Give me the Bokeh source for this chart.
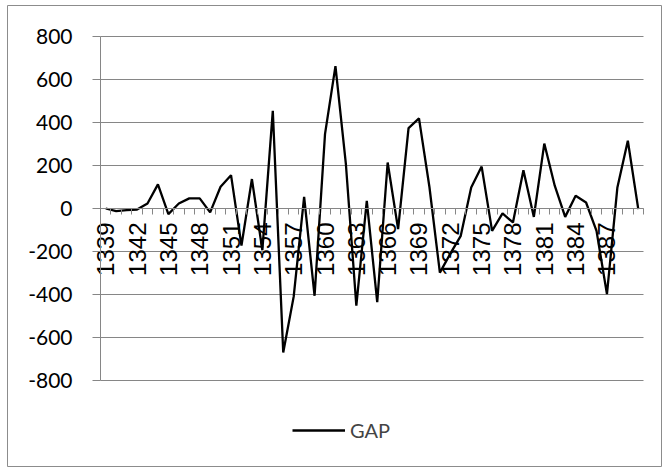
import math
from bokeh.plotting import figure
from bokeh.models import Range1d, FixedTicker, Legend, LegendItem, ColumnDataSource
from bokeh.embed import file_html
from bokeh.resources import INLINE

years = list(range(1339, 1391))
gap = [0, -12, -8, -5, 23, 112, -26, 23, 47, 47,
       -18, 101, 155, -173, 137, -194, 454, -670, -410, 54,
       -406, 346, 662, 206, -452, 36, -436, 214, -96, 374,
       419, 100, -298, -210, -127, 98, 195, -104, -23, -65,
       178, -39, 302, 106, -39, 59, 28, -104, -398, 98,
       315, -3]
x_labels = [str(y) for y in years[::3] if y <= 1387]
y_ticks = [-800, -600, -400, -200, 0, 200, 400, 600, 800]
series_name = "GAP"

n = len(years)
xs = [i + 0.5 for i in range(n)]
src = ColumnDataSource(dict(x=xs, y=gap, year=years))

# frame covers the whole chart area; plot area is x 0..n, y -800..800
px_per_x = 543.0 / n
px_per_y = 344.0 / 1600.0
p = figure(width=666, height=471, output_backend="svg", toolbar_location=None,
           x_range=Range1d(-93 / px_per_x, n + 18 / px_per_x),
           y_range=Range1d(-800 - 86 / px_per_y, 800 + 31 / px_per_y),
           min_border_left=7, min_border_right=5, min_border_top=5, min_border_bottom=5)
p.outline_line_color = "#8c8c8c"
p.outline_line_width = 1
p.background_fill_color = "white"
p.border_fill_color = "white"

r = p.line("x", "y", source=src, line_color="black", line_width=2.3)

grey = "#868686"
# y axis at plot-area left edge
p.yaxis.fixed_location = 0
p.yaxis.bounds = (y_ticks[0], y_ticks[-1])
p.yaxis.ticker = FixedTicker(ticks=y_ticks)
p.yaxis.major_label_overrides = {t: str(t) for t in y_ticks}
p.yaxis.axis_line_color = grey
p.yaxis.major_tick_line_color = grey
p.yaxis.major_tick_out = 8
p.yaxis.major_tick_in = 0
p.yaxis.minor_tick_line_color = None
p.yaxis.major_label_text_font = "Lato"
p.yaxis.major_label_text_font_size = "21px"
p.yaxis.major_label_text_color = "black"
p.yaxis.major_label_standoff = 20
p.ygrid.ticker = FixedTicker(ticks=y_ticks)
p.ygrid.cross_bounds = (0, n)
p.ygrid.grid_line_color = grey
p.ygrid.grid_line_width = 1
p.xgrid.grid_line_color = None

# x axis at y = 0
label_pos = [xs[years.index(int(s))] for s in x_labels]
p.xaxis.fixed_location = 0
p.xaxis.bounds = (0, n)
p.xaxis.ticker = FixedTicker(ticks=label_pos, minor_ticks=list(range(n + 1)))
p.xaxis.major_label_overrides = {pos: s for pos, s in zip(label_pos, x_labels)}
p.xaxis.axis_line_color = grey
p.xaxis.major_tick_line_color = None
p.xaxis.major_tick_out = 0
p.xaxis.major_tick_in = 0
p.xaxis.minor_tick_line_color = grey
p.xaxis.minor_tick_out = 6
p.xaxis.minor_tick_in = 0
p.xaxis.major_label_orientation = math.pi / 2
p.xaxis.major_label_text_font = "Liberation Sans"
p.xaxis.major_label_text_font_size = "24px"
p.xaxis.major_label_text_color = "black"
p.xaxis.major_label_standoff = 8

legend = Legend(items=[LegendItem(label=series_name, renderers=[r])],
                location=(285, 24), padding=0, margin=0, spacing=0,
                glyph_width=53, glyph_height=20, label_height=20, label_standoff=5,
                label_text_font="Lato", label_text_font_size="20px",
                background_fill_alpha=0, border_line_alpha=0)
p.add_layout(legend, "center")

open("out.html", "w").write(file_html(p, INLINE))
